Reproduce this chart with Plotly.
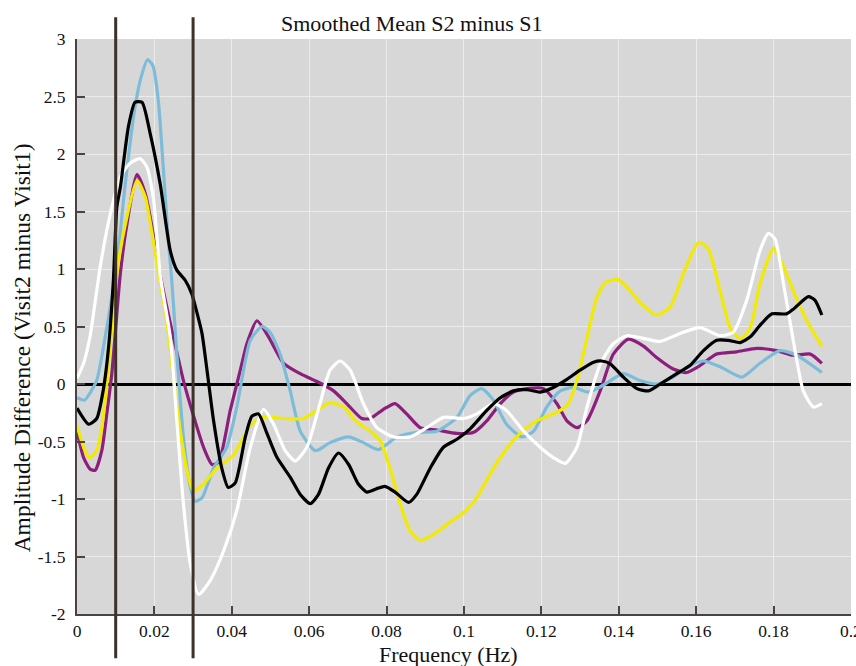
import plotly.graph_objects as go

# ---- data ----
purple_f = [0, 0.0017, 0.0034, 0.0047, 0.0064, 0.0077, 0.009, 0.0112, 0.0129, 0.0155, 0.0176, 0.0194, 0.0206,
            0.0232, 0.0249, 0.0275, 0.0305, 0.0327, 0.0349, 0.0366, 0.0396, 0.0422, 0.0439, 0.0465, 0.0495,
            0.0534, 0.0577, 0.0624, 0.0663, 0.0697, 0.0736, 0.0758, 0.0792, 0.0822, 0.0852, 0.0887, 0.093,
            0.0982, 0.1025, 0.1059, 0.1094, 0.1128, 0.1163, 0.1206, 0.124, 0.1266, 0.1292, 0.1318, 0.1352,
            0.1386, 0.1425, 0.1464, 0.1498, 0.1541, 0.1576, 0.161, 0.1653, 0.1705, 0.1757, 0.1808, 0.1851,
            0.1895, 0.1925]
purple_v = [-0.41, -0.64, -0.74, -0.75, -0.58, -0.26, 0.09, 0.96, 1.39, 1.82, 1.66, 1.36, 1.10,
            0.67, 0.41, 0.03, -0.32, -0.55, -0.70, -0.68, -0.23, 0.12, 0.35, 0.55, 0.41,
            0.18, 0.09, 0.015, -0.06, -0.17, -0.30, -0.30, -0.22, -0.17, -0.26, -0.38, -0.40,
            -0.43, -0.42, -0.32, -0.17, -0.07, -0.04, -0.04, -0.17, -0.32, -0.38, -0.32, -0.06,
            0.26, 0.39, 0.33, 0.23, 0.13, 0.10, 0.16, 0.26, 0.28, 0.31, 0.29, 0.25,
            0.26, 0.18]

blue_f = [0, 0.002, 0.0035, 0.0051, 0.0075, 0.0103, 0.0125, 0.015, 0.0165, 0.0182, 0.0196, 0.021, 0.0224,
          0.0236, 0.0245, 0.0258, 0.0275, 0.0293, 0.0305, 0.0323, 0.0353, 0.0387, 0.0413, 0.0448, 0.0478,
          0.0499, 0.0525, 0.0551, 0.0577, 0.0616, 0.0654, 0.0702, 0.074, 0.0779, 0.0827, 0.0878, 0.093,
          0.0982, 0.1016, 0.1046, 0.1076, 0.111, 0.115, 0.118, 0.1214, 0.1249, 0.1283, 0.1322, 0.136,
          0.1412, 0.1455, 0.1498, 0.1541, 0.1584, 0.1619, 0.1662, 0.1718, 0.1765, 0.1817, 0.186, 0.1925]
blue_v = [-0.12, -0.14, -0.07, 0.03, 0.45, 1.05, 1.75, 2.41, 2.66, 2.82, 2.77, 2.47, 1.83,
          1.25, 0.90, 0.26, -0.46, -0.90, -1.02, -0.99, -0.73, -0.55, -0.20, 0.38, 0.50,
          0.45, 0.26, -0.06, -0.41, -0.58, -0.51, -0.46, -0.51, -0.57, -0.46, -0.42, -0.41,
          -0.29, -0.10, -0.04, -0.14, -0.35, -0.46, -0.41, -0.20, -0.06, -0.03, -0.07, -0.01,
          0.09, 0.03, 0.0, 0.06, 0.16, 0.20, 0.15, 0.06, 0.18, 0.29, 0.25, 0.10]

yellow_f = [0, 0.0017, 0.0032, 0.0051, 0.0064, 0.0077, 0.0103, 0.0125, 0.0155, 0.0176, 0.0194, 0.0211,
            0.0232, 0.0249, 0.0267, 0.0284, 0.0301, 0.0327, 0.0362, 0.0404, 0.0448, 0.0482, 0.0534,
            0.0585, 0.062, 0.0654, 0.0689, 0.0723, 0.0758, 0.0783, 0.0809, 0.0835, 0.0861, 0.0887,
            0.0921, 0.0964, 0.0999, 0.1033, 0.1068, 0.1102, 0.1145, 0.1188, 0.1231, 0.1266, 0.1292,
            0.1318, 0.1343, 0.1365, 0.1398, 0.1425, 0.1455, 0.1498, 0.1533, 0.1567, 0.1606, 0.1631,
            0.1662, 0.1688, 0.1714, 0.174, 0.1765, 0.18, 0.1826, 0.1851, 0.1886, 0.1925]
yellow_v = [-0.36, -0.55, -0.64, -0.58, -0.38, 0.0, 0.96, 1.39, 1.77, 1.63, 1.31, 0.96,
            0.55, 0.06, -0.41, -0.75, -0.93, -0.87, -0.73, -0.62, -0.36, -0.29, -0.30,
            -0.30, -0.23, -0.16, -0.20, -0.33, -0.41, -0.49, -0.73, -1.04, -1.28, -1.36,
            -1.31, -1.20, -1.12, -0.99, -0.78, -0.60, -0.43, -0.32, -0.26, -0.19, 0.03,
            0.40, 0.75, 0.88, 0.91, 0.83, 0.71, 0.60, 0.67, 0.96, 1.23, 1.18,
            0.81, 0.49, 0.39, 0.49, 0.87, 1.18, 1.02, 0.81, 0.55, 0.33]

white_f = [0, 0.0017, 0.0034, 0.006, 0.0086, 0.0112, 0.0137, 0.0163, 0.018, 0.0198, 0.0215, 0.0241,
           0.0258, 0.0275, 0.0293, 0.0314, 0.0344, 0.0379, 0.0413, 0.0448, 0.0482, 0.0508, 0.0538,
           0.0564, 0.0594, 0.0628, 0.0654, 0.068, 0.0706, 0.074, 0.0775, 0.0818, 0.0861, 0.0904,
           0.0947, 0.0999, 0.1033, 0.1076, 0.111, 0.1154, 0.1197, 0.1231, 0.1262, 0.1292, 0.1318,
           0.1352, 0.1386, 0.1421, 0.1473, 0.1507, 0.1559, 0.161, 0.1662, 0.1696, 0.1731, 0.1765,
           0.1787, 0.1804, 0.1826, 0.1851, 0.1877, 0.1903, 0.1925]
white_v = [0.05, 0.18, 0.42, 1.02, 1.48, 1.80, 1.92, 1.96, 1.89, 1.60, 0.95, 0.41,
           -0.32, -1.04, -1.57, -1.83, -1.71, -1.45, -1.10, -0.55, -0.22, -0.35, -0.58,
           -0.67, -0.55, -0.17, 0.12, 0.20, 0.12, -0.17, -0.38, -0.46, -0.46, -0.38,
           -0.29, -0.30, -0.26, -0.17, -0.23, -0.41, -0.55, -0.64, -0.69, -0.55, -0.20,
           0.17, 0.35, 0.42, 0.39, 0.37, 0.44, 0.49, 0.42, 0.45, 0.73, 1.16,
           1.31, 1.26, 0.87, 0.38, -0.06, -0.20, -0.17]

black_f = [0, 0.003, 0.0051, 0.0068, 0.0081, 0.0094, 0.0103, 0.0112, 0.0133, 0.015, 0.0168, 0.0189,
           0.0215, 0.0241, 0.0258, 0.028, 0.0297, 0.031, 0.0323, 0.0336, 0.0353, 0.0374, 0.0391,
           0.0409, 0.0435, 0.0452, 0.0469, 0.0491, 0.0517, 0.0551, 0.0577, 0.0603, 0.0624, 0.065,
           0.0676, 0.0702, 0.0727, 0.0749, 0.0775, 0.0796, 0.0822, 0.0857, 0.0878, 0.0913, 0.0947,
           0.0982, 0.1016, 0.1059, 0.1094, 0.1128, 0.1163, 0.1197, 0.1231, 0.1266, 0.13, 0.1335,
           0.1356, 0.1378, 0.1412, 0.1447, 0.1477, 0.1507, 0.155, 0.1584, 0.1619, 0.1653, 0.1683,
           0.1714, 0.174, 0.1765, 0.1796, 0.1834, 0.1851, 0.189, 0.1907, 0.1925]
black_v = [-0.21, -0.35, -0.30, -0.05, 0.30, 0.90, 1.54, 1.71, 2.24, 2.45, 2.45, 2.18,
           1.74, 1.16, 0.99, 0.90, 0.78, 0.62, 0.44, 0.12, -0.32, -0.73, -0.90,
           -0.86, -0.46, -0.28, -0.26, -0.43, -0.64, -0.81, -0.96, -1.04, -0.96, -0.73,
           -0.60, -0.70, -0.87, -0.94, -0.91, -0.89, -0.94, -1.03, -0.96, -0.73, -0.55,
           -0.48, -0.39, -0.23, -0.12, -0.06, -0.05, -0.07, -0.03, 0.04, 0.12, 0.19,
           0.20, 0.175, 0.06, -0.04, -0.06, 0.0, 0.09, 0.16, 0.29, 0.38, 0.38,
           0.36, 0.41, 0.51, 0.61, 0.61, 0.65, 0.76, 0.73, 0.60]

markers_f = [0.01, 0.03]

x_ticks = [0, 0.02, 0.04, 0.06, 0.08, 0.1, 0.12, 0.14, 0.16, 0.18, 0.2]
x_labels = ["0", "0.02", "0.04", "0.06", "0.08", "0.1", "0.12", "0.14", "0.16", "0.18", "0.2"]
y_ticks = [3, 2.5, 2, 1.5, 1, 0.5, 0, -0.5, -1, -1.5, -2]
y_labels = ["3", "2.5", "2", "1.5", "1", "0.5", "0", "-0.5", "-1", "-1.5", "-2"]

title_text = "Smoothed Mean S2 minus S1"
x_title = "Frequency (Hz)"
y_title = "Amplitude Difference (Visit2 minus Visit1)"

FONT = "Liberation Serif"

series = [
    (purple_f, purple_v, "#8c1f7c"),
    (blue_f, blue_v, "#7dbcd9"),
    (yellow_f, yellow_v, "#f2ea00"),
    (white_f, white_v, "#ffffff"),
    (black_f, black_v, "#000000"),
]

fig = go.Figure()
for f, v, c in series:
    fig.add_trace(go.Scatter(x=f, y=v, mode="lines",
                             line=dict(color=c, width=3.2, shape="spline", smoothing=0.6),
                             showlegend=False, hoverinfo="skip"))

for m in markers_f:
    fig.add_shape(type="line", xref="x", yref="paper", x0=m, x1=m, y0=-0.077, y1=1.038,
                  line=dict(color="#3d3129", width=3), layer="above")

fig.add_annotation(text=title_text, xref="paper", yref="paper", x=0.433, y=1.0 + 16 / 575,
                   xanchor="center", yanchor="middle", showarrow=False,
                   font=dict(family=FONT, size=22, color="#111111"))
fig.add_annotation(text=x_title, xref="paper", yref="paper", x=0.48, y=-40 / 575,
                   xanchor="center", yanchor="middle", showarrow=False,
                   font=dict(family=FONT, size=22, color="#111111"))
fig.add_annotation(text=y_title, xref="paper", yref="paper", x=-55 / 774, y=0.462,
                   xanchor="center", yanchor="middle", showarrow=False, textangle=-90,
                   font=dict(family=FONT, size=23.5, color="#111111"))

axis_color = "#4a4343"
fig.update_layout(
    width=856, height=666,
    margin=dict(l=77, r=5, t=39, b=52, autoexpand=False),
    paper_bgcolor="white", plot_bgcolor="#d8d7d8",
    font=dict(family=FONT, size=17.5, color="#111111"),
    xaxis=dict(range=[0, 0.20003], tickvals=x_ticks, ticktext=x_labels,
               automargin=False,
               showgrid=True, gridcolor="#ebebeb", gridwidth=1,
               showline=True, linecolor=axis_color, linewidth=2,
               ticks="inside", ticklen=8, tickwidth=2, tickcolor=axis_color,
               ticklabeloverflow="allow",
               zeroline=False, tickfont=dict(family=FONT, size=17.5, color="#111111")),
    yaxis=dict(range=[-2, 3], tickvals=y_ticks, ticktext=y_labels,
               automargin=False,
               showgrid=True, gridcolor="#ebebeb", gridwidth=1,
               showline=True, linecolor=axis_color, linewidth=2,
               ticks="inside", ticklen=8, tickwidth=2, tickcolor=axis_color,
               zeroline=True, zerolinecolor="#000000", zerolinewidth=3,
               ticklabelstandoff=6,
               tickfont=dict(family=FONT, size=17.5, color="#111111")),
)

fig.write_html("out.html")
